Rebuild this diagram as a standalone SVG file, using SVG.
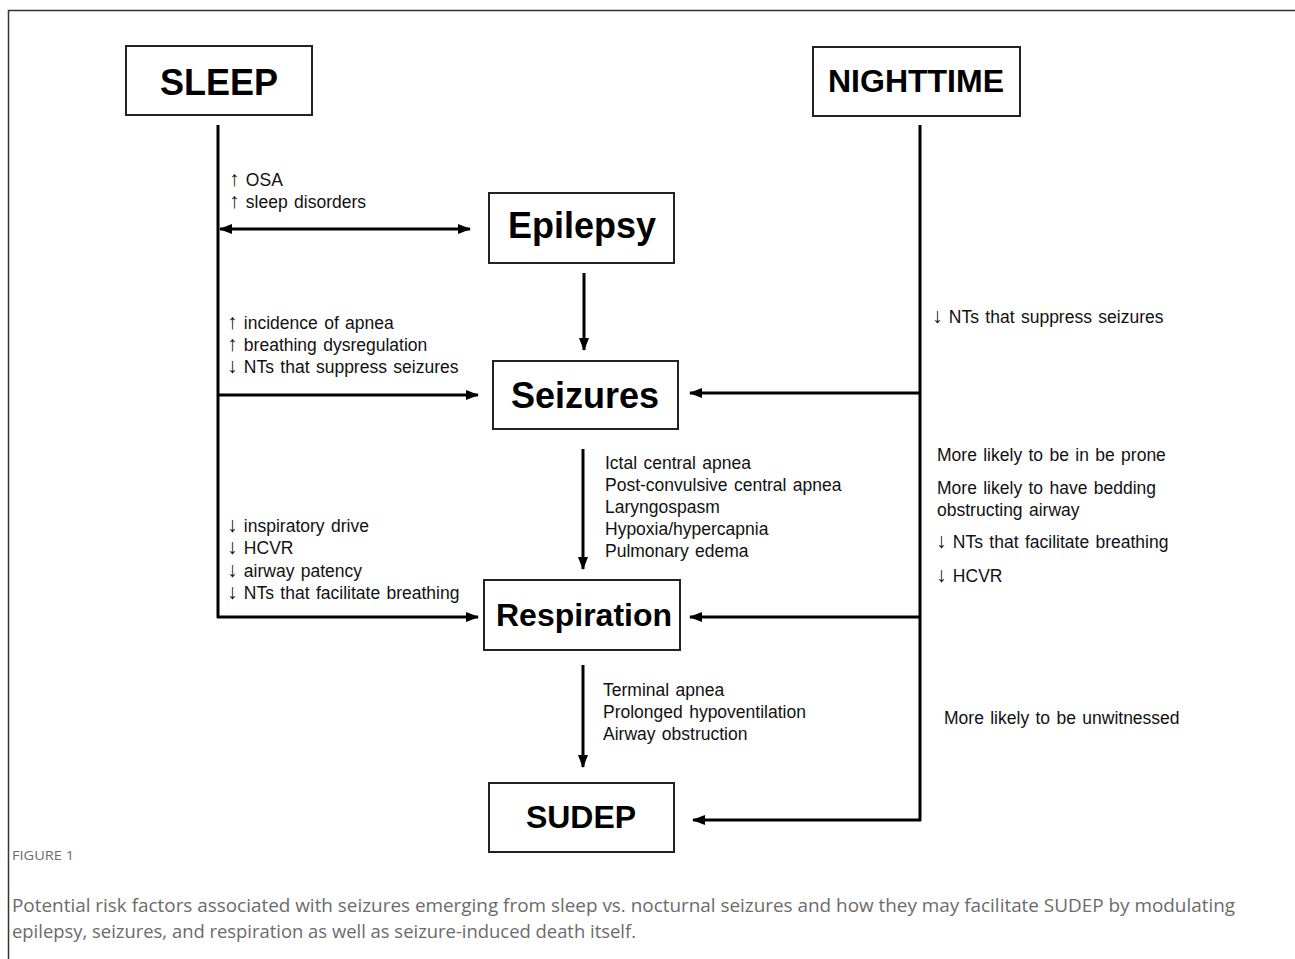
<svg xmlns="http://www.w3.org/2000/svg" width="1295" height="959" viewBox="0 0 1295 959">
<style>
.box{fill:#fff;stroke:#222;stroke-width:2}
.t{font-family:"Liberation Sans",Arial,sans-serif;font-weight:bold;fill:#000;text-anchor:middle}
.s{font-family:"Liberation Sans",Arial,sans-serif;font-size:17.5px;fill:#111;word-spacing:1.5px}
.a{font-size:21px}
.ln{stroke:#000;stroke-width:3;fill:none}
.cap{font-family:"Open Sans","Noto Sans",sans-serif;fill:#6b6b6b}
</style>
<defs>
<marker id="ah" viewBox="0 0 13 10" refX="12" refY="5" markerWidth="13" markerHeight="10" markerUnits="userSpaceOnUse" orient="auto-start-reverse">
<path d="M0,0 L13,5 L0,10 Z" fill="#000"/>
</marker>
</defs>
<rect width="1295" height="959" fill="#fff"/>
<path d="M8.5,959 V10.5 H1295" fill="none" stroke="#333" stroke-width="1.5"/>

<g id="sleep"><rect class="box" x="126" y="46" width="186" height="69"/><text class="t" x="219" y="95" font-size="36">SLEEP</text></g>
<g id="nighttime"><rect class="box" x="813" y="47" width="207" height="69"/><text class="t" x="916" y="92" font-size="32">NIGHTTIME</text></g>
<g id="epilepsy"><rect class="box" x="489" y="193" width="185" height="70"/><text class="t" x="582" y="238" font-size="36">Epilepsy</text></g>
<g id="seizures"><rect class="box" x="493" y="361" width="185" height="68"/><text class="t" x="585" y="408" font-size="36">Seizures</text></g>
<g id="respiration"><rect class="box" x="484" y="580" width="196" height="70"/><text class="t" x="584" y="626" font-size="32">Respiration</text></g>
<g id="sudep"><rect class="box" x="489" y="783" width="185" height="69"/><text class="t" x="581" y="828" font-size="32">SUDEP</text></g>

<g id="connectors">
<line class="ln" x1="218" y1="125" x2="218" y2="618"/>
<line class="ln" x1="920" y1="125" x2="920" y2="821"/>
<line class="ln" x1="220" y1="229" x2="470" y2="229" marker-start="url(#ah)" marker-end="url(#ah)"/>
<line class="ln" x1="584" y1="273" x2="584" y2="350" marker-end="url(#ah)"/>
<line class="ln" x1="218" y1="395" x2="478" y2="395" marker-end="url(#ah)"/>
<line class="ln" x1="920" y1="393" x2="690" y2="393" marker-end="url(#ah)"/>
<line class="ln" x1="583" y1="449" x2="583" y2="569" marker-end="url(#ah)"/>
<line class="ln" x1="217" y1="617" x2="478" y2="617" marker-end="url(#ah)"/>
<line class="ln" x1="920" y1="617" x2="690" y2="617" marker-end="url(#ah)"/>
<line class="ln" x1="583" y1="665" x2="583" y2="767" marker-end="url(#ah)"/>
<line class="ln" x1="921" y1="820" x2="693" y2="820" marker-end="url(#ah)"/>
</g>

<g id="labels">
<text class="s" x="229" y="186"><tspan class="a">↑</tspan> OSA</text>
<text class="s" x="229" y="208"><tspan class="a">↑</tspan> sleep disorders</text>
<text class="s" x="227" y="329"><tspan class="a">↑</tspan> incidence of apnea</text>
<text class="s" x="227" y="351"><tspan class="a">↑</tspan> breathing dysregulation</text>
<text class="s" x="227" y="373"><tspan class="a">↓</tspan> NTs that suppress seizures</text>
<text class="s" x="227" y="532"><tspan class="a">↓</tspan> inspiratory drive</text>
<text class="s" x="227" y="554"><tspan class="a">↓</tspan> HCVR</text>
<text class="s" x="227" y="577"><tspan class="a">↓</tspan> airway patency</text>
<text class="s" x="227" y="599"><tspan class="a">↓</tspan> NTs that facilitate breathing</text>
<text class="s" x="605" y="469">Ictal central apnea</text>
<text class="s" x="605" y="491">Post-convulsive  central apnea</text>
<text class="s" x="605" y="513">Laryngospasm</text>
<text class="s" x="605" y="535">Hypoxia/hypercapnia</text>
<text class="s" x="605" y="557">Pulmonary edema</text>
<text class="s" x="932" y="323"><tspan class="a">↓</tspan> NTs that suppress seizures</text>
<text class="s" x="937" y="461">More likely to be in be prone</text>
<text class="s" x="937" y="494">More likely to have bedding</text>
<text class="s" x="937" y="516">obstructing airway</text>
<text class="s" x="936" y="548"><tspan class="a">↓</tspan> NTs that facilitate breathing</text>
<text class="s" x="936" y="582"><tspan class="a">↓</tspan> HCVR</text>
<text class="s" x="603" y="696">Terminal apnea</text>
<text class="s" x="603" y="718">Prolonged hypoventilation</text>
<text class="s" x="603" y="740">Airway obstruction</text>
<text class="s" x="944" y="724">More likely to be unwitnessed</text>
</g>

<g id="caption">
<text class="cap" x="12" y="860" font-size="12" textLength="62" lengthAdjust="spacingAndGlyphs">FIGURE 1</text>
<text class="cap" x="12" y="912" font-size="18" textLength="1223" lengthAdjust="spacingAndGlyphs">Potential risk factors associated with seizures emerging from sleep vs. nocturnal seizures and how they may facilitate SUDEP by modulating</text>
<text class="cap" x="12" y="938" font-size="18" textLength="624" lengthAdjust="spacingAndGlyphs">epilepsy, seizures, and respiration as well as seizure-induced death itself.</text>
</g>
</svg>
